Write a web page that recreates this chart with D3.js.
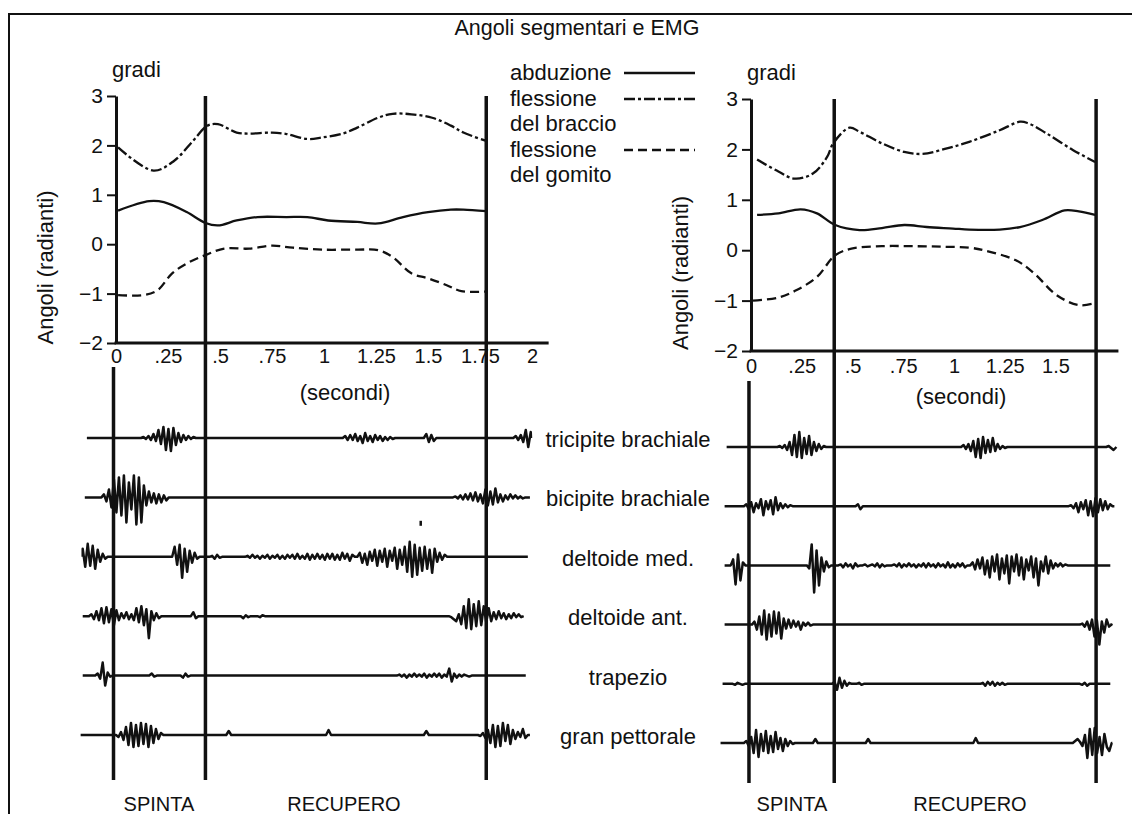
<!DOCTYPE html>
<html><head><meta charset="utf-8">
<script src="https://cdn.jsdelivr.net/npm/d3@7"></script>
<style>
body{margin:0;background:#fff;}
text{font-family:"Liberation Sans",Arial,Helvetica,sans-serif;fill:#111;}
</style></head>
<body><svg id="c" width="1132" height="814"></svg>
<script>
// ---------- DATA ----------
const title = "Angoli segmentari e EMG";
const yTicks = [-2, -1, 0, 1, 2, 3];
const xTicksLeft = [0, 0.25, 0.5, 0.75, 1, 1.25, 1.5, 1.75, 2];
const xTicksRight = [0, 0.25, 0.5, 0.75, 1, 1.25, 1.5];
const legendLabels = [["abduzione"], ["flessione", "del braccio"], ["flessione", "del gomito"]];
const seriesNames = ["abduzione", "flessione del braccio", "flessione del gomito"];
const phaseLabels = ["SPINTA", "RECUPERO"];
const muscles = ["tricipite brachiale", "bicipite brachiale", "deltoide med.", "deltoide ant.", "trapezio", "gran pettorale"];
// phase boundaries (s)
const phaseLinesLeft = [0.43, 1.78];
const phaseLinesRight = [0.41, 1.70];

// angle curves [t (s), rad]
const leftAbd = [[0.01,0.68],[0.16,0.87],[0.23,0.85],[0.34,0.65],[0.43,0.43],[0.49,0.38],[0.58,0.48],[0.68,0.55],[0.82,0.55],[0.92,0.55],[1.02,0.48],[1.16,0.45],[1.26,0.42],[1.38,0.55],[1.50,0.65],[1.61,0.70],[1.67,0.70],[1.78,0.67]];
const leftArm = [[0.01,1.96],[0.18,1.49],[0.28,1.69],[0.37,2.09],[0.44,2.40],[0.49,2.43],[0.58,2.26],[0.64,2.24],[0.75,2.26],[0.82,2.23],[0.92,2.13],[0.99,2.16],[1.09,2.24],[1.16,2.36],[1.26,2.56],[1.33,2.64],[1.42,2.63],[1.52,2.56],[1.61,2.40],[1.67,2.26],[1.78,2.09]];
const leftElbow = [[0.01,-1.03],[0.13,-1.03],[0.20,-0.93],[0.27,-0.59],[0.34,-0.39],[0.43,-0.22],[0.52,-0.09],[0.64,-0.09],[0.75,-0.03],[0.85,-0.07],[0.99,-0.11],[1.16,-0.11],[1.26,-0.12],[1.33,-0.26],[1.42,-0.59],[1.50,-0.69],[1.59,-0.83],[1.66,-0.95],[1.78,-0.96]];
const rightAbd = [[0.03,0.70],[0.135,0.73],[0.245,0.81],[0.325,0.73],[0.415,0.50],[0.535,0.40],[0.645,0.44],[0.755,0.50],[0.865,0.46],[0.995,0.43],[1.075,0.41],[1.225,0.41],[1.325,0.46],[1.435,0.60],[1.545,0.79],[1.615,0.77],[1.695,0.70]];
const rightArm = [[0.03,1.80],[0.135,1.56],[0.215,1.42],[0.305,1.52],[0.375,1.85],[0.405,2.12],[0.485,2.43],[0.535,2.35],[0.645,2.12],[0.755,1.95],[0.845,1.91],[0.965,2.02],[1.075,2.15],[1.225,2.38],[1.325,2.55],[1.365,2.52],[1.455,2.32],[1.585,1.99],[1.695,1.75]];
const rightElbow = [[0.01,-1.0],[0.135,-0.94],[0.225,-0.79],[0.325,-0.53],[0.415,-0.10],[0.495,0.03],[0.645,0.08],[0.785,0.08],[0.935,0.07],[1.075,0.05],[1.145,0.0],[1.305,-0.2],[1.395,-0.46],[1.505,-0.89],[1.615,-1.09],[1.695,-1.05]];

// EMG: trace spans [start s, end s] and bursts [start s, samples every 12 ms]
const emgStep = 0.012;
const emgSpanLeft = [[-0.14,1.995],[-0.15,1.99],[-0.16,1.98],[-0.16,1.96],[-0.16,1.97],[-0.17,1.99]];
const emgSpanRight = [[-0.12,1.80],[-0.13,1.79],[-0.13,1.77],[-0.13,1.77],[-0.14,1.77],[-0.15,1.78]];
const emgBurstsLeft = [
  [[0.12,[0,1,-1,2,-2,4,-3,8,-6,11,-12,9,-13,10,-7,5,-4,3,-2,2,-1,1,0]],
   [1.09,[0,2,-2,3,-2,4,-3,2,-5,5,-3,2,-4,3,-2,2,-3,1,-2,1,-1,0]],
   [1.48,[0,4,-4,3,-3,0]],
   [1.91,[0,2,-2,3,-4,8,-9,6]]],
  [[-0.07,[0,3,-4,8,-10,18,-15,20,-18,22,-25,15,-12,22,-27,20,-25,12,-8,6,-5,4,-6,3,-5,2,-3,0]],
   [1.62,[0,1,-1,2,-2,3,-2,4,-3,5,-4,3,-6,8,-8,6,-7,9,-5,3,-4,2,-2,3,-1,2,-1,1,-1,0]]],
  [[-0.16,[8,-10,13,-9,11,-12,7,-5,3,-2,0]],
   [0.27,[0,10,-8,12,-21,8,-15,6,-6,4,-2,0]],
   [0.45,[0,1,-2,2,-1,0]],
   [0.62,[0,1,-1,2,-1,1,-2,1,-1,2,-2,1,-1,2,-2,1,-2,2,-1,2,-2,3,-2,1,-2,3,-3,2,-2,3,-2,2,-3,3,-2,3,-3,2,-3,4,-2,3,-4,2,0]],
   [1.16,[0,4,-6,3,-8,5,-4,7,-9,6,-5,8,-10,6,-4,9,-12,7,-8,10,-15,15,-20,12,-18,9,-14,10,-12,7,-16,8,-5,4,-3,2,0]]],
  [[-0.13,[0,2,-3,5,-4,8,-7,9,-6,7,-9,6,-4,3,-2,4,-3,2,-4,8,-6,10,-9,7,-22,5,-4,3,-2,0]],
   [0.36,[0,4,-2,0]],
   [0.60,[0,-2,1,-1,0]],
   [0.68,[0,-1,1,0]],
   [1.60,[0,-1,-3,-5,2,-8,10,-12,17,-13,12,-10,15,-9,10,-6,8,-5,4,-3,5,-2,3,-3,2,-2,3,-1,2,-1,0]]],
  [[-0.10,[0,2,-3,13,-10,3,-1,0]],
   [0.16,[0,2,-1,0]],
   [0.31,[0,-2,2,-1,0]],
   [1.35,[0,1,-1,1,-2,1,-1,2,-1,1,-1,2,-2,1,-1,2,-1,2,-2,1,-1,7,-6,2,-2,1,-1,1,0,-1,0]]],
  [[0.0,[0,-2,3,-5,8,-10,12,-12,10,-11,12,-9,11,-12,9,-8,6,-4,2,0]],
   [0.53,[0,4,0]],
   [1.01,[0,5,0]],
   [1.48,[0,4,0]],
   [1.74,[0,-1,2,-3,5,-8,10,-12,9,-11,12,-6,10,-9,5,-4,3,-2,6,-3,0]]]
];
const emgBurstsRight = [
  [[0.13,[0,1,-1,2,-3,5,-8,12,-10,15,-11,9,-7,11,-8,5,-4,3,-2,1,0]],
   [1.035,[0,2,-2,3,-4,6,-10,8,-11,10,-6,7,-5,9,-4,3,-2,1,-1,0]],
   [1.75,[0,1,-1,-3]]],
  [[-0.035,[0,2,-3,4,-6,3,-2,7,-9,5,-3,6,-8,9,-4,3,-2,2,-1,1,0]],
   [0.515,[0,2,-3,0]],
   [1.565,[0,1,-2,3,-6,4,-3,6,-9,5,-10,8,-6,7,-4,5,-3,2,0]]],
  [[-0.10,[0,6,-19,11,-15,3,0]],
   [0.275,[0,-3,21,-27,15,-20,8,-6,4,-2,0]],
   [0.43,[0,1,-2,2,-1,1,-3,2,-1,0,0,1,-1,0,1,-1,2,-2,1,-1,0,0,0,1,-1,2,-2,1,-1,2,-1,1,-2,1,-1,2,-2,2,-1,1,-2,2,-1,1,-2,3,-2,1,-2,2,-1,2,-2,0]],
   [1.08,[0,3,-4,6,-3,8,-9,5,-12,9,-6,11,-14,7,-8,10,-18,9,-6,11,-10,8,-14,6,-5,9,-12,7,-20,4,-6,9,-8,5,-3,2,-1,2,-1,1,0]]],
  [[0.005,[0,3,-5,8,-10,14,-15,10,-12,13,-9,12,-14,6,-4,5,-3,4,-2,3,-5,2,-1,2,-1,0]],
   [1.62,[0,1,-2,3,-5,5,-12,4,-20,3,-8,5,-2,0]]],
  [[-0.09,[0,-1,1,0,-1,0]],
   [0.40,[0,2,-6,6,-4,3,-2,1,0]],
   [0.52,[0,1,-1,0]],
   [1.13,[0,1,-2,2,-1,2,-2,1,-1,1,-1,0]],
   [1.62,[0,-1,1,-2,0]]],
  [[-0.035,[0,2,-3,6,-10,13,-14,9,-8,12,-10,7,-9,11,-6,5,-8,4,-3,2,-1,0]],
   [0.305,[0,4,0]],
   [0.565,[0,4,0]],
   [1.095,[0,5,0]],
   [1.585,[0,2,4,1,-3,8,-15,14,-12,15,-10,6,-12,9,-4,-8,0]]]
];
// isolated mark above deltoide med. (left) : [t, from, to]
const emgMarksLeft = [[1.465, 31, 36]];

// ---------- DRAW ----------
const svg = d3.select("#c");
svg.append("rect").attr("width",1132).attr("height",814).attr("fill","#fff");
const ink = "#111";
const FS = 22;

// frame
svg.append("path").attr("d","M9,814 L9,14 L1132,14").attr("fill","none").attr("stroke",ink).attr("stroke-width",2);
svg.append("text").attr("x",577).attr("y",35).attr("text-anchor","middle").attr("font-size",21.5).text(title);

const dashes = [null, "11,3,3,3", "9,5"];

function panel(o){
  const x = d3.scaleLinear().domain([0,2]).range([o.x0, o.x0 + 2*o.pps]);
  const y = d3.scaleLinear().domain([-2,3]).range([o.yBot, o.yTop]);
  const g = svg.append("g");
  // y axis
  const ya = g.append("g").attr("transform",`translate(${x(0)},0)`)
    .call(d3.axisLeft(y).tickValues(yTicks).tickSize(9).tickSizeOuter(0).tickPadding(4).tickFormat(d3.format("d")));
  ya.select(".domain").attr("stroke",ink).attr("stroke-width",3);
  ya.selectAll(".tick line").attr("stroke",ink).attr("stroke-width",2);
  ya.selectAll("text").attr("font-size",21).attr("font-family",'"Liberation Sans",Arial,sans-serif').attr("fill",ink);
  // x axis
  const xa = g.append("g").attr("transform",`translate(0,${y(-2)})`)
    .call(d3.axisBottom(x).tickValues(o.xTicks).tickSize(0).tickPadding(o.xPad)
      .tickFormat(d => d===0 ? "0" : (d<1 ? String(d).replace(/^0/,"") : String(d))));
  xa.select(".domain").remove();
  xa.selectAll("text").attr("font-size",20).attr("font-family",'"Liberation Sans",Arial,sans-serif').attr("fill",ink);
  g.append("line").attr("x1",x(0)-1.5).attr("x2",x(o.xEnd)).attr("y1",y(-2)).attr("y2",y(-2)).attr("stroke",ink).attr("stroke-width",3);
  g.append("text").attr("x",x(0)-4).attr("y",o.yTop-19).attr("font-size",FS).text("gradi");
  g.append("text").attr("transform",`translate(${o.ylabX},${(o.yTop+o.yBot)/2+48}) rotate(-90)`).attr("text-anchor","middle").attr("font-size",FS).text("Angoli (radianti)");
  g.append("text").attr("x",o.secX).attr("y",o.secY).attr("text-anchor","middle").attr("font-size",FS).text("(secondi)");
  // curves
  const line = d3.line().x(d=>x(d[0])).y(d=>y(d[1])).curve(d3.curveCatmullRom.alpha(0.5));
  o.series.forEach((s,i)=>{
    g.append("path").attr("d",line(s)).attr("fill","none").attr("stroke",ink).attr("stroke-width",2.3)
      .attr("stroke-dasharray",dashes[i]);
  });
  // phase lines
  o.phases.forEach(t=>{
    g.append("line").attr("x1",x(t)).attr("x2",x(t)).attr("y1",o.yTop).attr("y2",o.emgBottom).attr("stroke",ink).attr("stroke-width",3.5);
  });
  g.append("line").attr("x1",x(o.emgStartT)).attr("x2",x(o.emgStartT)).attr("y1",o.emgTop).attr("y2",o.emgBottom).attr("stroke",ink).attr("stroke-width",3.5);
  // EMG
  const rows = d3.scalePoint().domain(muscles).range(o.rowRange);
  const emgLine = d3.line().x(d=>x(d[0])).y(d=>d[1]);
  muscles.forEach((m,i)=>{
    const base = rows(m);
    const v = d3.scaleLinear().domain([-30,30]).range([base+30, base-30]);
    const pts = [[o.spans[i][0], v(0)]];
    o.bursts[i].forEach(b=>{
      b[1].forEach((val,k)=>pts.push([b[0]+k*emgStep, v(val)]));
    });
    pts.push([o.spans[i][1], v(0)]);
    g.append("path").attr("d",emgLine(pts)).attr("fill","none").attr("stroke",ink).attr("stroke-width",2.5).attr("stroke-linejoin","round");
    if(i===2) (o.marks||[]).forEach(mk=>{
      g.append("line").attr("x1",x(mk[0])).attr("x2",x(mk[0])).attr("y1",v(mk[1])).attr("y2",v(mk[2])).attr("stroke",ink).attr("stroke-width",2.5);
    });
  });
  // phase labels
  g.append("text").attr("x",o.spintaX).attr("y",811).attr("text-anchor","middle").attr("font-size",20).text(phaseLabels[0]);
  g.append("text").attr("x",o.recX).attr("y",811).attr("text-anchor","middle").attr("font-size",20).text(phaseLabels[1]);
  return rows;
}

const rowsL = panel({x0:116, pps:208, yTop:96, yBot:343, xTicks:xTicksLeft, xPad:6, xEnd:2.08,
  ylabX:53, secX:345, secY:400, series:[leftAbd,leftArm,leftElbow], phases:phaseLinesLeft,
  emgTop:367, emgBottom:780, emgStartT:-0.012, rowRange:[438,735], spans:emgSpanLeft, bursts:emgBurstsLeft,
  marks:emgMarksLeft, spintaX:159, recX:344});
panel({x0:751, pps:203, yTop:99, yBot:351, xTicks:xTicksRight, xPad:8, xEnd:1.81,
  ylabX:688, secX:961, secY:404, series:[rightAbd,rightArm,rightElbow], phases:phaseLinesRight,
  emgTop:381, emgBottom:783, emgStartT:-0.01, rowRange:[447,743], spans:emgSpanRight, bursts:emgBurstsRight,
  spintaX:792, recX:970});

// legend
const legY = [72, 98, 123, 149, 174];
const lg = svg.append("g");
let li = 0;
legendLabels.forEach((lines,i)=>{
  lines.forEach((t,k)=>{
    lg.append("text").attr("x",510).attr("y",legY[li]+8).attr("font-size",FS).text(t);
    if(k===0){
      lg.append("line").attr("x1",624).attr("x2",695).attr("y1",legY[li]+1).attr("y2",legY[li]+1)
        .attr("stroke",ink).attr("stroke-width",2.3).attr("stroke-dasharray",dashes[i]);
    }
    li++;
  });
});

// EMG muscle labels
muscles.forEach(m=>{
  svg.append("text").attr("x",628).attr("y",rowsL(m)+9).attr("text-anchor","middle").attr("font-size",FS).text(m);
});
</script></body></html>
